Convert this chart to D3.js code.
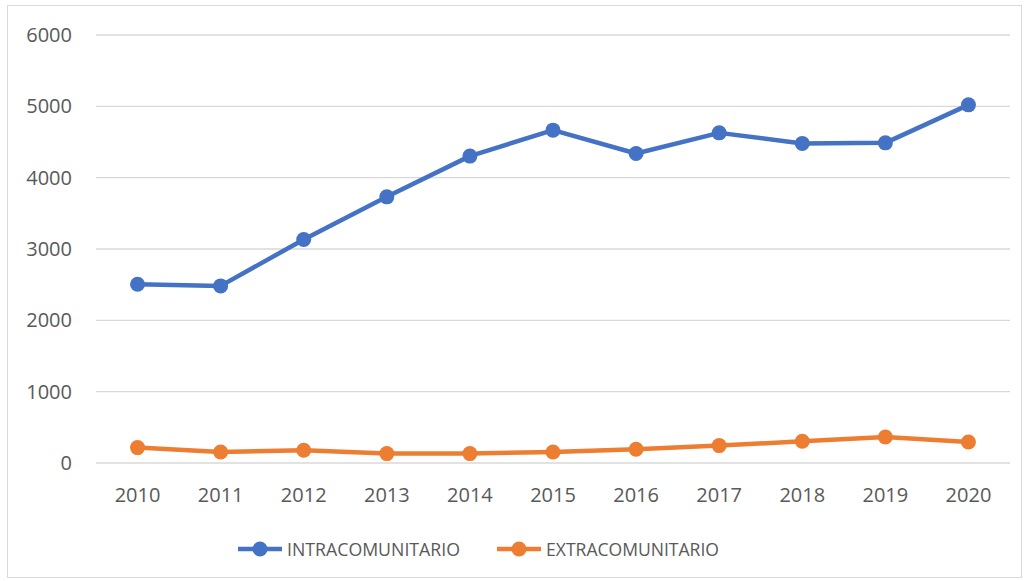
<!DOCTYPE html>
<html>
<head>
<meta charset="utf-8">
<script src="https://cdn.jsdelivr.net/npm/d3@7"></script>
<style>
  body { margin: 0; background: #fff; }
  text { font-family: "Open Sans", "Noto Sans", sans-serif; fill: #595959; }
</style>
</head>
<body>
<script>
// Data
const years = ['2010', '2011', '2012', '2013', '2014', '2015', '2016', '2017', '2018', '2019', '2020']
const intra = [2506, 2483, 3133, 3731, 4302, 4666, 4339, 4628, 4480, 4488, 5021]
const extra = [216, 154, 178, 132, 132, 154, 192, 244, 304, 365, 295]
const yTicks = [0, 1000, 2000, 3000, 4000, 5000, 6000]
const seriesNames = ['INTRACOMUNITARIO', 'EXTRACOMUNITARIO']
const colors = ['#4472C4', '#ED7D31']

const width = 1027
const height = 581

const svg = d3.select('body').append('svg')
  .attr('width', width)
  .attr('height', height)

// outer frame
svg.append('rect')
  .attr('x', 7.5).attr('y', 5.5)
  .attr('width', 1014).attr('height', 572)
  .attr('fill', 'none')
  .attr('stroke', '#d9d9d9')

const plot = { left: 96, right: 1010, top: 35, bottom: 463 }

const xScale = d3.scaleBand()
  .domain(years)
  .range([plot.left, plot.right])

const yScale = d3.scaleLinear()
  .domain([0, 6000])
  .range([plot.bottom, plot.top])

// gridlines
svg.append('g')
  .selectAll('line')
  .data(yTicks)
  .enter()
  .append('line')
  .attr('x1', plot.left)
  .attr('x2', plot.right)
  .attr('y1', d => yScale(d))
  .attr('y2', d => yScale(d))
  .attr('stroke', '#d9d9d9')
  .attr('stroke-width', 1.3)

// y axis labels
const yAxis = svg.append('g')
  .attr('transform', `translate(${plot.left - 24}, 0)`)
  .call(d3.axisLeft(yScale).tickValues(yTicks).tickFormat(d3.format('d')).tickSize(0).tickPadding(0))
yAxis.select('.domain').remove()
yAxis.selectAll('text')
  .style('font-size', '20px')
  .attr('fill', '#595959')

// x axis labels
const xAxis = svg.append('g')
  .attr('transform', `translate(0, ${plot.bottom})`)
  .call(d3.axisBottom(xScale).tickSize(0).tickPadding(25))
xAxis.select('.domain').remove()
xAxis.selectAll('text')
  .style('font-size', '20px')
  .attr('fill', '#595959')

const xc = d => xScale(d) + xScale.bandwidth() / 2

const line = d3.line()
  .x((d, i) => xc(years[i]))
  .y(d => yScale(d))

const allSeries = [intra, extra]
allSeries.forEach((vals, k) => {
  svg.append('path')
    .datum(vals)
    .attr('d', line)
    .attr('fill', 'none')
    .attr('stroke', colors[k])
    .attr('stroke-width', 4.5)
    .attr('stroke-linejoin', 'round')

  svg.append('g')
    .selectAll('circle')
    .data(vals)
    .enter()
    .append('circle')
    .attr('cx', (d, i) => xc(years[i]))
    .attr('cy', d => yScale(d))
    .attr('r', 7.5)
    .attr('fill', colors[k])
})

// legend
const legendX = [238, 497]
const legend = svg.append('g')
seriesNames.forEach((name, k) => {
  const g = legend.append('g').attr('transform', `translate(${legendX[k]}, 549)`)
  g.append('line')
    .attr('x1', 0).attr('x2', 44)
    .attr('stroke', colors[k])
    .attr('stroke-width', 4.5)
  g.append('circle')
    .attr('cx', 22).attr('r', 7.5)
    .attr('fill', colors[k])
  g.append('text')
    .attr('x', 49)
    .attr('dy', '0.35em')
    .attr('textLength', 173)
    .attr('lengthAdjust', 'spacingAndGlyphs')
    .style('font-size', '19px')
    .text(name)
})
</script>
</body>
</html>
